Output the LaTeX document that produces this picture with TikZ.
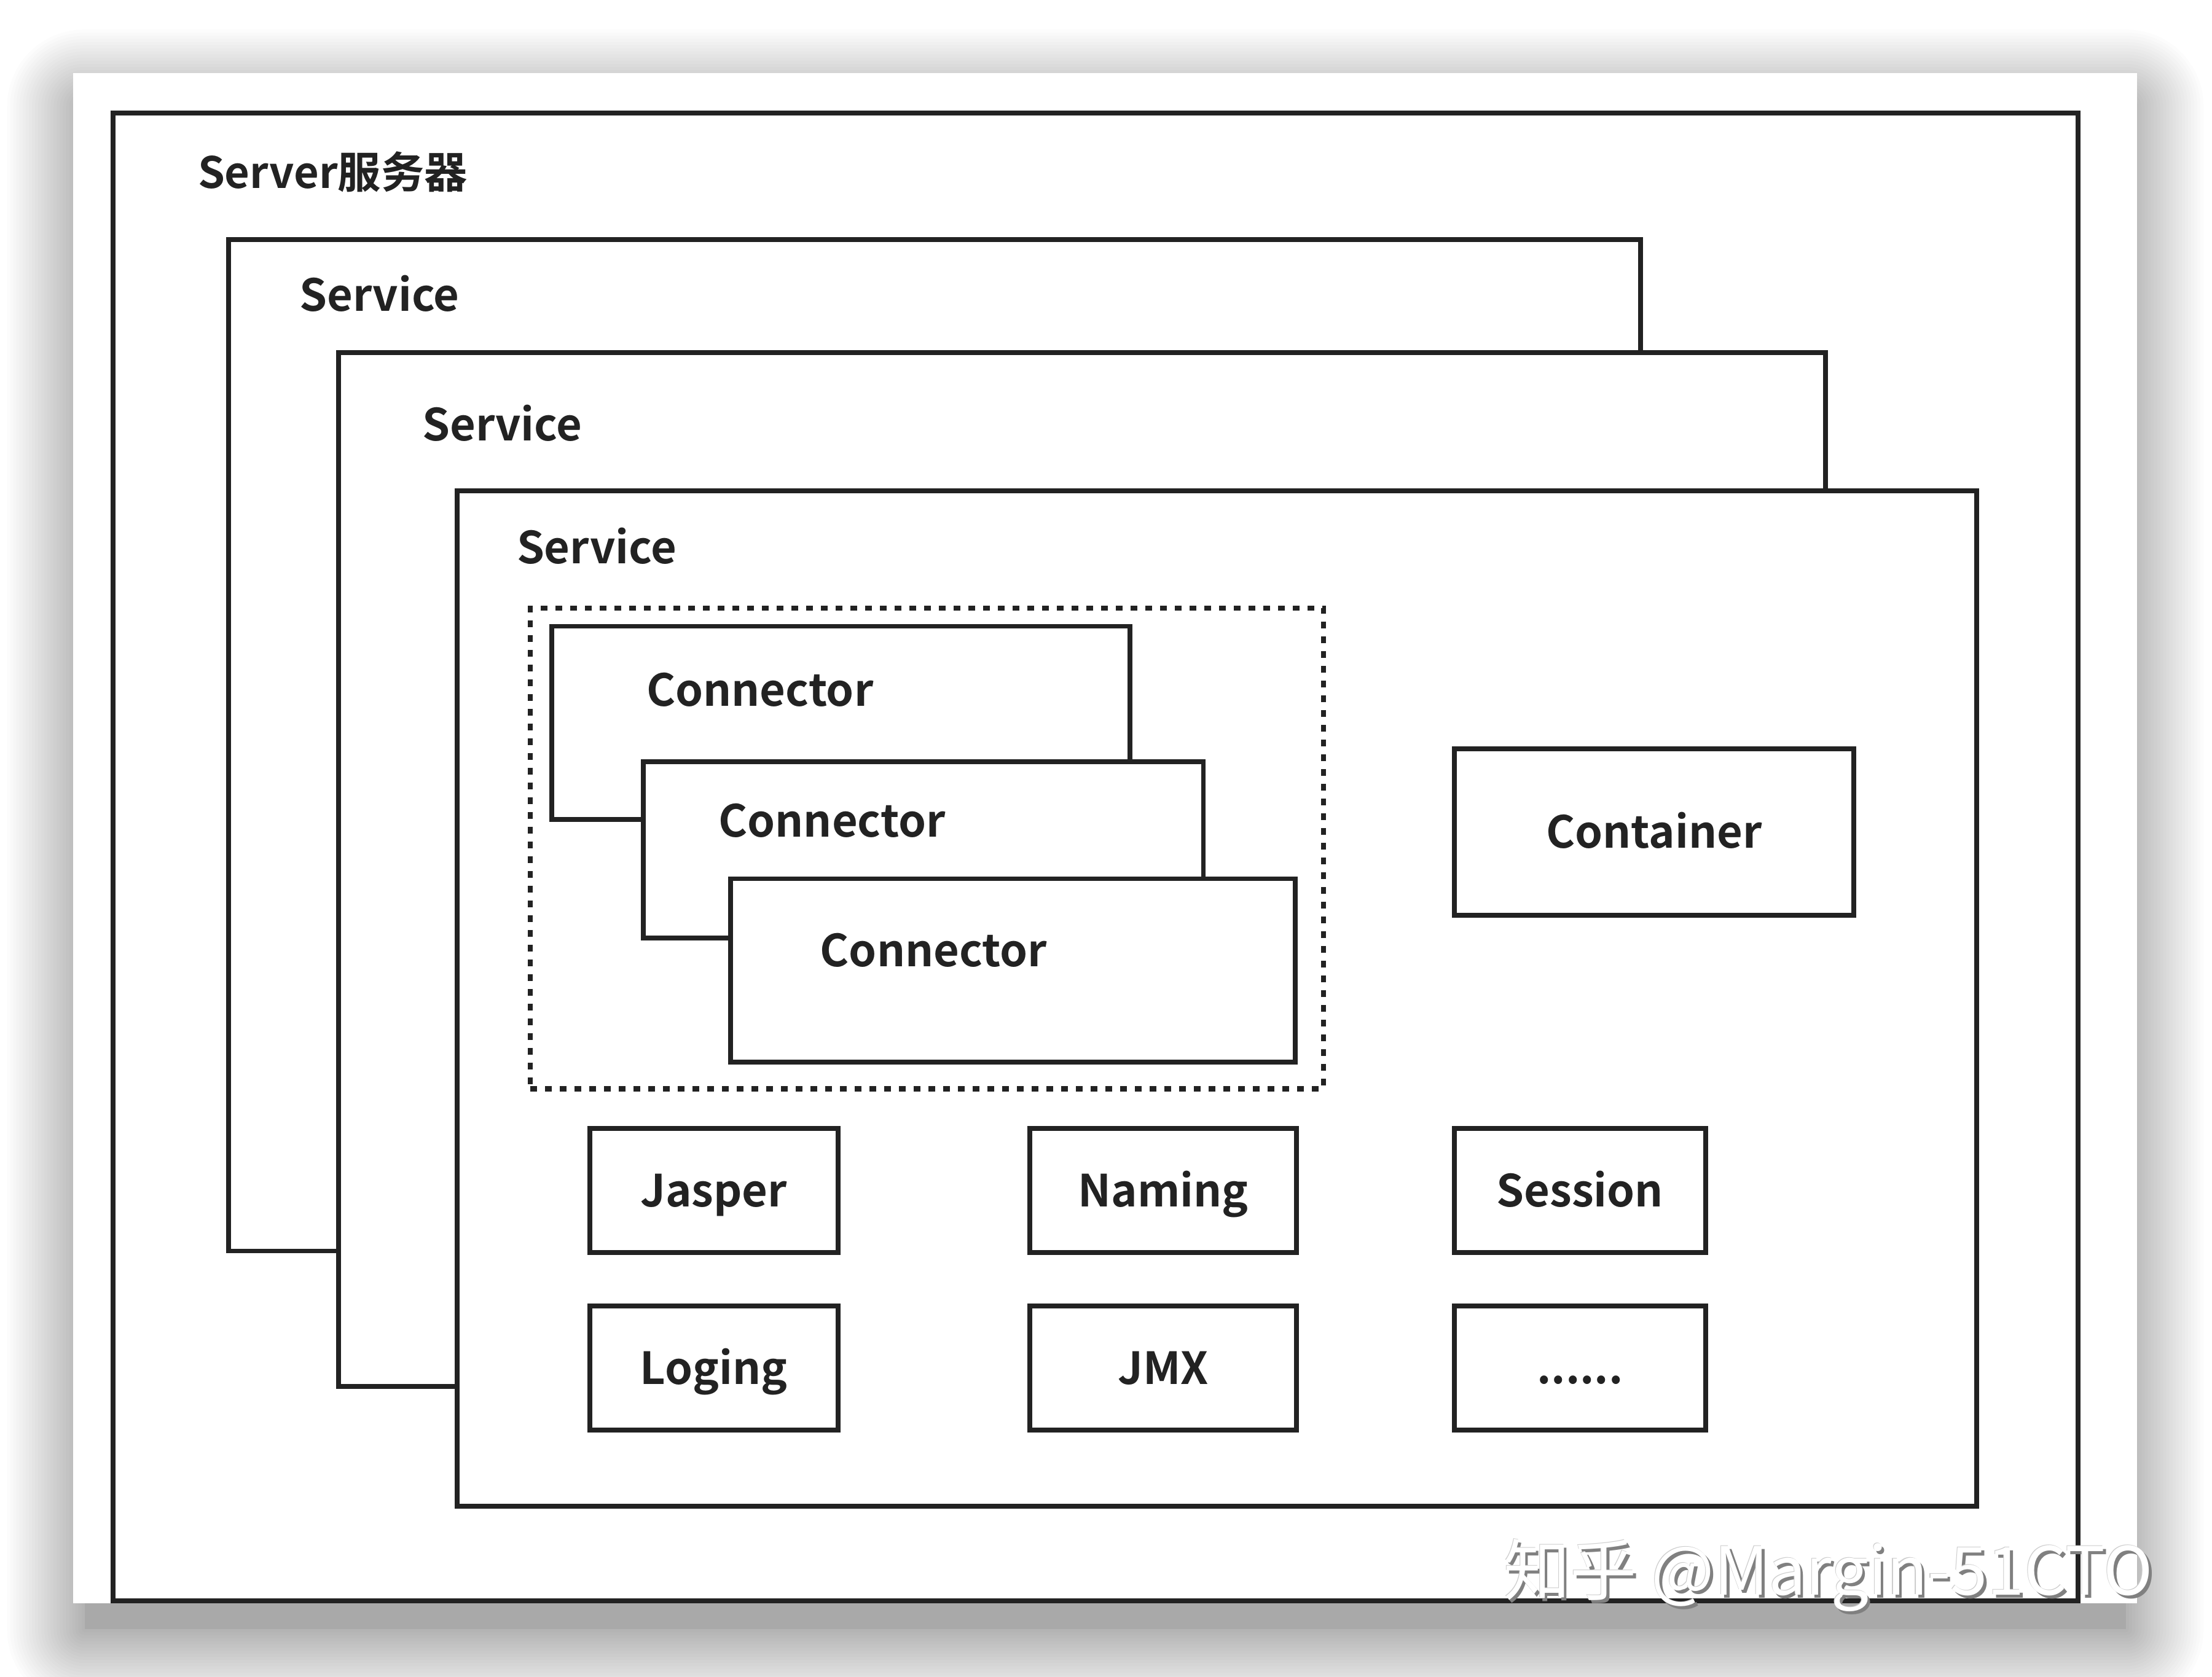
\documentclass[tikz,border=0pt]{standalone}
\usepackage{fontspec}
\setmainfont{Noto Sans CJK SC}[BoldFont={Noto Sans CJK SC Bold}]
\usetikzlibrary{fit}
\definecolor{ink}{HTML}{222222}
\begin{document}
\begin{tikzpicture}[x=0.2296mm,y=-0.2296mm,
  box/.style={draw=ink, line width=2.2pt, fill=white, inner sep=0pt},
  dotbox/.style={draw=ink, line width=2.3pt, dash pattern=on 1.1mm off 1.3mm, inner sep=0pt},
  lbl/.style={font=\fontsize{20.5}{20.5}\selectfont\bfseries, text=ink, inner sep=0pt, text height=15pt, text depth=0pt},
  wlbl/.style={lbl, anchor=west},
  wmtext/.style={font=\fontsize{30.8}{30.8}\selectfont, inner sep=0pt}]
\useasboundingbox (0,0) rectangle (1568,1189);
\fill[white] (0,0) rectangle (1568,1189);
% soft shadow of the card
\foreach \k in {1,...,25}{
  \fill[black, opacity=0.011, rounded corners={\k*0.5mm}]
    ({60-2.2*\k},{76-2.2*\k}) rectangle ({1507+2.2*\k},{1155+2.2*\k});
}
\fill[black, opacity=0.06] (60,76) rectangle (1507,1155);
% card
\fill[white] (52,52) rectangle (1515,1137);

% server and services
\node[box, fit={(80,80) (1473,1135)}] (server) {};
\node[wlbl, font=\fontsize{20}{20}\selectfont\bfseries] (serverlbl) at (140,122) {Server服务器};
\node[box, fit={(162,170) (1163,887)}] (svc1) {};
\node[wlbl] (svc1lbl) at (212,209) {Service};
\node[box, fit={(240,250) (1294,983)}] (svc2) {};
\node[wlbl] (svc2lbl) at (299,301) {Service};
\node[box, fit={(324,348) (1401,1068)}] (svc3) {};
\node[wlbl] (svc3lbl) at (366,388) {Service};

% connectors
\node[dotbox, fit={(376,431) (938,772)}] (conngroup) {};
\node[box, fit={(391,444) (801,581)}] (conn1) {};
\node[wlbl] (conn1lbl) at (458,489) {Connector};
\node[box, fit={(456,540) (853,665)}] (conn2) {};
\node[wlbl] (conn2lbl) at (509,582) {Connector};
\node[box, fit={(518,623) (918,753)}] (conn3) {};
\node[wlbl] (conn3lbl) at (581,674) {Connector};

% container and components
\node[box, fit={(1031,531) (1314,649)}] (container) {};
\node[lbl] (containerlbl) at (container.center) {Container};
\node[box, fit={(418,800) (594,888)}] (jasper) {};
\node[lbl] at (jasper.center) {Jasper};
\node[box, fit={(730,800) (919,888)}] (naming) {};
\node[lbl] at (naming.center) {Naming};
\node[box, fit={(1031,800) (1209,888)}] (session) {};
\node[lbl] at (session.center) {Session};
\node[box, fit={(418,926) (594,1014)}] (loging) {};
\node[lbl] at (loging.center) {Loging};
\node[box, fit={(730,926) (919,1014)}] (jmx) {};
\node[lbl] at (jmx.center) {JMX};
\node[box, fit={(1031,926) (1209,1014)}] (more) {};
\node[font=\fontsize{20.5}{20.5}\selectfont\bfseries, text=ink, inner sep=0pt, anchor=base] (morelbl) at (1120,981) {......};

% watermark
\node[wmtext, text=black!50] (wm1) at (1298,1119) {知乎 @Margin-51CTO};
\node[wmtext, text=black!20] (wm2) at (1295.5,1116.5) {知乎 @Margin-51CTO};
\node[wmtext, text=white] (wm) at (1296,1117) {知乎 @Margin-51CTO};
\end{tikzpicture}
\end{document}
